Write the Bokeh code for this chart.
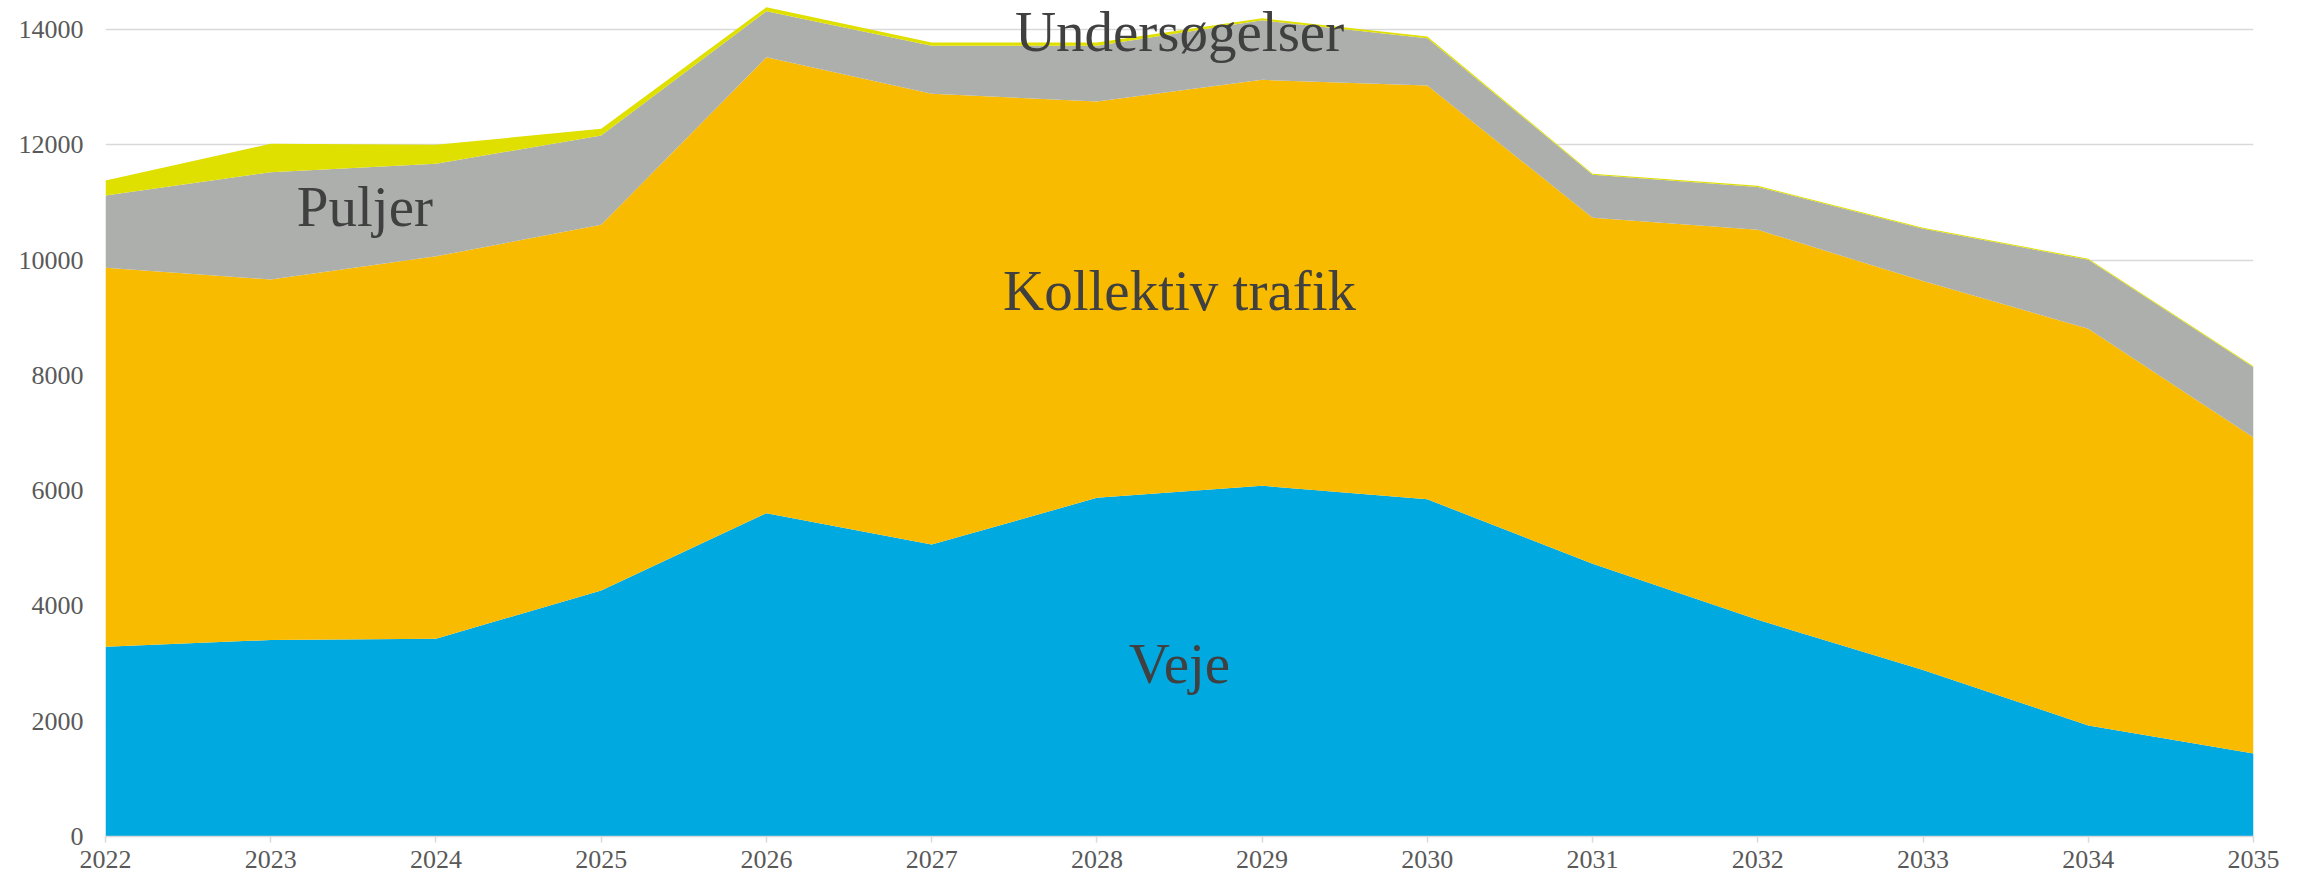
from bokeh.plotting import figure
from bokeh.models import ColumnDataSource, FixedTicker, Range1d
from bokeh.core.properties import value
from bokeh.embed import file_html
from bokeh.resources import INLINE

# ---- data ----
years = [2022, 2023, 2024, 2025, 2026, 2027, 2028, 2029, 2030, 2031, 2032, 2033, 2034, 2035]
veje = [3290, 3410, 3430, 4270, 5610, 5065, 5875, 6085, 5850, 4730, 3760, 2890, 1925, 1440]
kollektiv_trafik = [6578, 6255, 6636, 6344, 7910, 7820, 6876, 7042, 7179, 6005, 6765, 6746, 6886, 5481]
puljer = [1254, 1861, 1605, 1548, 797, 832, 966, 1033, 821, 745, 745, 909, 1194, 1219]
undersoegelser = [260, 492, 329, 116, 70, 57, 57, 36, 28, 18, 20, 17, 19, 17]

series_names = ["Veje", "Kollektiv trafik", "Puljer", "Undersøgelser"]
series_colors = ["#00A9E0", "#F8BB00", "#ADAFAD", "#DFE000"]
y_ticks = [0, 2000, 4000, 6000, 8000, 10000, 12000, 14000]

source = ColumnDataSource(dict(
    year=years,
    veje=veje,
    kollektiv=kollektiv_trafik,
    puljer=puljer,
    unders=undersoegelser,
))

FONT = "Liberation Serif"

p = figure(
    width=2300, height=880,
    output_backend="svg", toolbar_location=None,
    x_range=Range1d(2022, 2035), y_range=Range1d(0, 14400),
    min_border_left=105, min_border_right=47, min_border_top=6, min_border_bottom=44,
)
p.outline_line_color = None
p.background_fill_color = "white"

p.varea_stack(stackers=["veje", "kollektiv", "puljer", "unders"], x="year",
              color=series_colors, source=source)

# grid
p.xgrid.grid_line_color = None
p.ygrid.grid_line_color = "#D9D9D9"
p.ygrid.grid_line_width = 1.5
p.ygrid.level = "underlay"

# x axis
p.xaxis.ticker = FixedTicker(ticks=years)
p.xaxis.axis_line_color = "#D9D9D9"
p.xaxis.axis_line_width = 1.5
p.xaxis.major_tick_line_color = "#D9D9D9"
p.xaxis.major_tick_line_width = 1.5
p.xaxis.major_tick_out = 6
p.xaxis.major_tick_in = 0
p.xaxis.minor_tick_line_color = None
p.xaxis.major_label_standoff = 8
p.xaxis.major_label_text_font = FONT
p.xaxis.major_label_text_font_size = "26px"
p.xaxis.major_label_text_color = "#595959"

# y axis
p.yaxis.ticker = FixedTicker(ticks=y_ticks)
p.yaxis.axis_line_color = None
p.yaxis.major_tick_line_color = None
p.yaxis.major_tick_out = 0
p.yaxis.major_tick_in = 0
p.yaxis.minor_tick_line_color = None
p.yaxis.minor_tick_out = 0
p.yaxis.major_label_standoff = 22
p.yaxis.major_label_text_font = FONT
p.yaxis.major_label_text_font_size = "26px"
p.yaxis.major_label_text_color = "#595959"

# in-chart series labels
label_x = [2028.5, 2028.5, 2023.57, 2028.5]
label_y = [2996, 9475, 10931, 13966]
p.text(x=label_x, y=label_y, text=series_names,
       text_font=value(FONT), text_font_size="57px", text_color="#404040",
       text_align="center", text_baseline="alphabetic")

open("out.html", "w").write(file_html(p, INLINE))
